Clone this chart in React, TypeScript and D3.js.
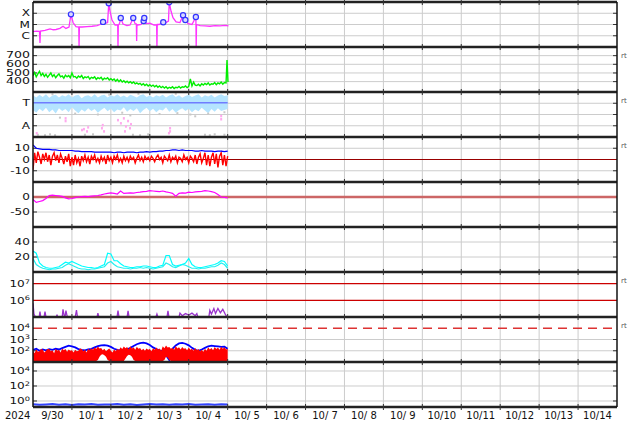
import React from "react";
import * as d3 from "d3";

// time span of the plot (UTC)
const START = Date.UTC(2024, 8, 30);
const END = Date.UTC(2024, 9, 15);

// ---- GOES X-ray flux (hours from start, W/m2)
const xrayHours = [0, 2, 4.0, 4.3, 4.6, 7.4, 10.5, 12.5, 14.2, 16.6, 18.5, 20.3, 22.2, 23.4, 24.7, 26.5, 28.2, 28.4, 28.6, 30.2, 33.3, 36.4, 39.5, 41.3, 43.2, 44.4, 46.0, 46.7, 47.5, 48.7, 50.6, 52.2, 52.4, 52.6, 53.3, 54.1, 55.5, 57.9, 59.8, 61.8, 62.9, 63.7, 63.9, 64.1, 64.7, 66.6, 68.2, 68.4, 68.6, 69.7, 72.1, 74.6, 76.2, 76.4, 76.6, 77.7, 80.3, 82.0, 83.5, 84.0, 85.1, 86.3, 88.2, 90.6, 92.5, 93.1, 93.9, 95.6, 98.0, 100.4, 100.6, 100.8, 103, 106, 109.1, 112.2, 115.3, 118.4, 120.5];
const xrayFlux = [2.3e-6, 2.6e-6, 2.5e-6, 2.3e-7, 2.6e-6, 3e-6, 4e-6, 3.4e-6, 3.6e-6, 4.5e-6, 7e-6, 4.5e-6, 6e-6, 8e-5, 1.5e-5, 6.5e-6, 6e-6, 1e-7, 6e-6, 6e-6, 6.5e-6, 7e-6, 8e-6, 1e-5, 1.7e-5, 1.2e-5, 1.5e-5, 7.6e-4, 1.5e-4, 2.5e-5, 9e-6, 9e-6, 1e-7, 9e-6, 1.2e-5, 3.8e-5, 1.1e-5, 8e-6, 9e-6, 3.8e-5, 1.2e-5, 1.1e-5, 3.4e-7, 1e-5, 9e-6, 1e-5, 2e-5, 1.4e-5, 3.8e-5, 1.2e-5, 1.3e-5, 9e-6, 9e-6, 1e-7, 1e-5, 1e-5, 1.6e-5, 1.5e-5, 2e-5, 9.4e-4, 1.5e-4, 4e-5, 1.7e-5, 1.5e-5, 6.6e-5, 2e-5, 2.5e-5, 1.2e-5, 1e-5, 4.7e-5, 1e-7, 1e-5, 8e-6, 7.5e-6, 7e-6, 8e-6, 7.5e-6, 8.5e-6, 7.5e-6];
const flareHours = [23.4, 43.2, 46.7, 54.1, 61.8, 68.2, 68.6, 80.3, 84.0, 92.5, 93.9, 100.4];
const flareFlux = [8e-5, 1.7e-5, 7.6e-4, 3.8e-5, 3.8e-5, 2e-5, 3.8e-5, 1.6e-5, 9.4e-4, 6.6e-5, 2.5e-5, 4.7e-5];

// ---- solar wind speed, hourly from hour 0
const windSpeed = [
  470, 505, 455, 490, 520, 470, 495, 460, 485, 450, 475, 500, 460, 480, 445, 470, 490, 455, 465, 440, 475, 455, 470, 445,
  500, 455, 460, 440, 465, 450, 470, 435, 455, 445, 460, 430, 450, 440, 455, 425, 445, 435, 450, 420, 440, 430, 445, 420,
  435, 415, 430, 405, 425, 400, 420, 395, 410, 390, 405, 385, 400, 380, 395, 375, 385, 370, 380, 360, 375, 355, 370, 350,
  365, 345, 360, 340, 355, 335, 350, 330, 345, 325, 340, 320, 335, 325, 340, 320, 335, 330, 345, 325, 340, 335, 350, 330,
  345, 430, 350, 395, 360, 355, 370, 350, 375, 360, 380, 365, 385, 360, 375, 370, 390, 365, 385, 375, 395, 370, 390, 385,
];
const windTailHours = [119.6, 120.2];
const windTailValues = [650, 395];

// ---- T / A panel (2-hourly band, dots)
const bandHigh = [
  9.3, 8.8, 9.4, 8.9, 9.5, 8.7, 9.2, 9.4, 8.8, 9.3,
  9.0, 9.5, 8.8, 9.2, 9.4, 8.6, 9.1, 9.3, 8.9, 9.5,
  8.8, 9.2, 9.4, 8.8, 9.3, 9.0, 9.5, 8.9, 9.2, 8.8,
  9.4, 9.1, 8.8, 9.3, 9.5, 8.9, 9.2, 8.8, 9.3, 9.0,
  9.4, 8.8, 9.2, 9.5, 8.9, 9.3, 8.7, 9.1, 9.4, 8.9,
  9.2, 9.5, 8.8, 9.3, 9.0, 9.4, 8.8, 9.2, 9.5, 9.1, 9.3,
];
const bandLow = [
  6.0, 5.4, 6.3, 5.7, 6.5, 5.5, 6.1, 5.2, 6.4, 5.8,
  6.2, 5.5, 6.6, 5.9, 5.3, 6.1, 5.6, 6.4, 5.8, 6.2,
  5.4, 6.0, 6.5, 5.7, 6.3, 5.5, 6.1, 5.9, 6.6, 5.6,
  6.2, 5.8, 6.4, 5.3, 6.0, 6.5, 5.7, 6.3, 5.5, 6.1,
  5.9, 6.6, 5.6, 6.2, 5.4, 6.0, 6.4, 5.8, 6.3, 5.5,
  6.1, 5.7, 6.5, 5.9, 5.3, 6.2, 5.6, 6.4, 5.8, 6.0, 6.2,
];
const tLevel = 7.6;
const grayHours = [16.6, 26, 40, 55, 60, 65, 78, 89, 100, 108, 118, 3, 7.4, 10.5, 13.6, 32, 37, 61.6, 66, 71, 106, 109, 112, 118, 12, 47, 88, 97];
const grayValues = [4.3, 5.2, 5.0, 5.4, 4.8, 9.6, 5.1, 5.3, 4.6, 5.2, 5.5, 0.5, 0.4, 0.6, 0.4, 0.5, 0.6, 0.5, 0.4, 0.6, 0.5, 0.4, 0.6, 0.5, 9.5, 9.4, 9.6, 5.0];
const pinkHours = [20.1, 20.1, 2.3, 30.2, 31.4, 33.3, 34, 42.5, 43.8, 43, 52.4, 54.2, 56, 57.3, 58.6, 59.8, 56.7, 60.4, 84.5, 84.5, 83.8, 116, 116];
const pinkValues = [4.2, 3.6, 0.9, 1.6, 1.8, 1.3, 2.2, 2.0, 1.3, 2.7, 3.8, 3.1, 4.2, 2.4, 3.6, 2.0, 1.3, 2.9, 2.0, 1.3, 0.9, 4.7, 4.0];

// ---- IMF Bz hourly, Bt 2-hourly (nT)
const bz = [
  -9, 6, -3, 7, 2, -4, 5, 0, 6, -2, 4, -5,
  3, 6, -1, 4, -3, 5, 1, -4, 3, -2, 5, -6,
  2, -5, 4, -3, 1, -6, 3, -1, 4, -2, 2, -4,
  3, 0, 4, -2, 1, -3, 3, -1, 2, -4, 4, -1,
  2, -3, 3, 0, 4, -2, 1, -3, 3, -1, 2, -2,
  3, 0, 2, -3, 1, 4, -1, 2, -2, 3, 0, 2,
  -1, 3, 1, -2, 2, 4, 0, 2, -3, 3, 1, -1,
  4, -2, 2, 0, 3, -3, 2, 1, -2, 4, 0, 2,
  -3, 3, 1, -2, 4, -4, 2, 5, -3, 1, 6, -5,
  4, -6, 2, 6, -4, 5, -7, 3, 6, -5, 4, -6, 3,
];
const bt = [
  13, 10, 9.5, 9, 9, 9, 8.5, 8.5, 8, 8, 8,
  8, 8, 7.5, 7.5, 7, 7, 7, 7, 6.5, 6.5,
  6.5, 6.5, 6.5, 6.5, 6, 6.5, 6.5, 6, 6.5, 6.5,
  6.5, 6, 6.5, 6.5, 7, 6.5, 7, 7, 7.5, 7.5,
  8, 8, 8.5, 8.5, 8, 8.5, 8, 8, 8, 7.5,
  7.5, 8, 7.5, 7.5, 7.5, 7, 7.5, 7.5, 7, 7.5,
];

// ---- Dst 2-hourly (nT)
const dst = [
  -8, -18, -15, -12, -5, 5, 6, 5, 4, 2, -3,
  -6, -5, -2, 0, 1, 2, 1, 3, 4, 5,
  7, 10, 12, 14, 12, 10, 20, 12, 13, 14,
  13, 15, 16, 18, 19, 21, 20, 19, 18, 20,
  17, 15, 12, 3, 12, 14, 13, 16, 15, 17,
  18, 19, 21, 20, 18, 15, 8, 0, -1, -3,
];

// ---- density, two series 2-hourly
const dens1 = [
  28, 25, 12, 8, 6, 5, 5, 6, 7, 10, 13,
  12, 14, 12, 10, 8, 7, 6, 6, 5, 6,
  8, 10, 25, 24, 15, 15, 11, 8, 7, 6,
  6, 7, 7, 8, 8, 7, 6, 6, 8, 9,
  22, 22, 10, 8, 9, 10, 12, 18, 10, 7,
  6, 6, 7, 8, 9, 10, 12, 15, 14, 8,
];
const dens2 = [
  18, 10, 7, 5, 4, 3, 4, 4, 5, 6, 9,
  11, 9, 7, 5, 4, 4, 3, 4, 4, 5,
  6, 7, 12, 14, 10, 7, 6, 5, 5, 4,
  5, 5, 6, 5, 6, 5, 4, 5, 6, 7,
  12, 10, 7, 6, 8, 10, 9, 7, 5, 5,
  4, 5, 5, 6, 7, 7, 9, 12, 10, 5,
];

// ---- electron flux (purple)
const purpleHours = [0, 0.6, 1.5, 3.8, 4.3, 4.8, 6.8, 7.4, 8, 14.2, 14.8, 15.4, 18, 18.5, 19.2, 19.8, 20.3, 20.9, 21.3, 26, 26.8, 27.4, 39.5, 40, 40.6, 51.8, 52.4, 53, 58, 58.6, 59.2, 75.8, 76.4, 77, 82.6, 83.2, 83.8, 90, 90.6, 92, 94, 96, 98, 100, 101, 101.6, 108.4, 109, 110, 111.5, 112.5, 114, 115.5, 117, 118.5, 119.6, 120];
const purpleValues = [6.6e5, 1.5e5, 9e4, 9e4, 2.1e5, 9e4, 9e4, 2.1e5, 9e4, 9e4, 1.3e5, 9e4, 9e4, 2.9e5, 1.2e5, 1.1e5, 2.4e5, 1.3e5, 9e4, 9e4, 2.6e5, 9e4, 9e4, 1.7e5, 9e4, 9e4, 2.4e5, 9e4, 9e4, 2.3e5, 9e4, 9e4, 1.5e5, 9e4, 9e4, 2.3e5, 9e4, 9e4, 1.7e5, 1.2e5, 1.6e5, 1.3e5, 1.7e5, 1.2e5, 1.6e5, 9e4, 9e4, 2.5e5, 1.5e5, 3.2e5, 1.6e5, 3.3e5, 1.8e5, 2.9e5, 1.5e5, 9e4, 9e4];

// ---- proton flux: blue 2-hourly, red hourly envelope
const protonBlue = [
  120, 150, 100, 130, 110, 140, 120, 150, 130, 170, 220,
  280, 250, 200, 140, 120, 110, 130, 150, 200, 260,
  300, 320, 280, 220, 150, 120, 110, 100, 130, 180,
  260, 380, 480, 520, 450, 320, 200, 140, 110, 90,
  40, 15, 150, 300, 450, 500, 420, 300, 180, 120,
  100, 130, 180, 250, 280, 260, 240, 220, 230, 150,
];
const protonRedHigh = [
  110, 60, 130, 80, 90, 150, 120, 70, 100, 140, 140, 90,
  110, 60, 150, 100, 120, 70, 160, 110, 140, 80, 130, 100,
  110, 70, 120, 90, 100, 160, 140, 90, 120, 70, 150, 110,
  170, 120, 200, 140, 240, 160, 180, 110, 150, 90, 120, 160,
  100, 70, 130, 90, 150, 110, 200, 140, 240, 170, 220, 130,
  250, 160, 200, 120, 230, 150, 180, 110, 150, 100, 160, 120,
  140, 90, 170, 120, 190, 130, 160, 100, 250, 170, 300, 190,
  220, 150, 180, 120, 260, 160, 200, 130, 220, 150, 170, 110,
  190, 120, 150, 100, 180, 110, 140, 90, 120, 80, 150, 100,
  200, 130, 180, 110, 220, 140, 190, 120, 230, 150, 210, 130, 150,
];
const protonRedLow = [
  12, 12, 12, 12, 12, 12, 12, 12, 12, 12, 12, 12,
  12, 12, 12, 12, 12, 12, 12, 12, 12, 12, 12, 12,
  12, 12, 12, 12, 12, 12, 12, 12, 12, 12, 12, 12,
  12, 12, 12, 12, 15, 30, 45, 50, 40, 30, 15, 12,
  12, 12, 12, 12, 12, 12, 12, 12, 12, 20, 35, 45,
  40, 30, 15, 12, 12, 12, 12, 12, 12, 12, 12, 12,
  12, 12, 12, 12, 12, 12, 12, 12, 12, 15, 30, 25,
  15, 12, 12, 12, 12, 12, 12, 12, 12, 12, 12, 12,
  12, 12, 12, 12, 12, 12, 12, 12, 12, 12, 12, 12,
  12, 12, 12, 12, 12, 12, 12, 12, 12, 12, 12, 12, 12,
];

// ---- bottom panel, 4-hourly
const lowBlue = [0.36, 0.31, 0.35, 0.4, 0.32, 0.36, 0.3, 0.38, 0.34, 0.39, 0.31, 0.35, 0.33, 0.4, 0.32, 0.37, 0.3, 0.35, 0.39, 0.33, 0.36, 0.31, 0.38, 0.34, 0.4, 0.32, 0.35, 0.37, 0.31, 0.36, 0.35];

const LEFT = 33;
const RIGHT = 617;
const PH = 45;
const tops = [2, 47, 92, 137, 182, 227, 272, 317, 362];
const FONT = "DejaVu Sans";
const GRID = "#cccccc";

type Lab = { v: number; t: string; e?: string };

export default function App() {
  const x = d3.scaleUtc().domain([new Date(START), new Date(END)]).range([LEFT, RIGHT]);
  const at = (h: number) => x(new Date(START + h * 3600000));
  const days = d3.utcDay.range(new Date(START), new Date(END + 1));

  const ys = [
    d3.scaleLog().domain([1e-7, 1e-3]).range([47, 2]).clamp(true),
    d3.scaleLinear().domain([280, 800]).range([92, 47]),
    d3.scaleLinear().domain([0, 10]).range([137, 92]),
    d3.scaleLinear().domain([-20, 20]).range([182, 137]),
    d3.scaleLinear().domain([-100, 50]).range([227, 182]),
    d3.scaleLinear().domain([0, 60]).range([272, 227]),
    d3.scaleLog().domain([1e5, 5e7]).range([317, 272]).clamp(true),
    d3.scaleLog().domain([10, 1e5]).range([362, 317]).clamp(true),
    d3.scaleLog().domain([0.158, 1.58e5]).range([407, 362]).clamp(true),
  ];

  const grids: number[][] = [
    [1e-4, 1e-5, 1e-6],
    [400, 500, 600, 700],
    [7.5, 5, 2.5],
    [10, -10],
    [-50],
    [20, 40],
    [],
    [1e2, 1e3],
    [1, 1e2, 1e4],
  ];

  const labels: Lab[][] = [
    [{ v: 1e-4, t: "X" }, { v: 1e-5, t: "M" }, { v: 1e-6, t: "C" }],
    [{ v: 700, t: "700" }, { v: 600, t: "600" }, { v: 500, t: "500" }, { v: 400, t: "400" }],
    [{ v: 7.5, t: "T" }, { v: 2.5, t: "A" }],
    [{ v: 10, t: "10" }, { v: 0, t: "0" }, { v: -10, t: "-10" }],
    [{ v: 0, t: "0" }, { v: -50, t: "-50" }],
    [{ v: 40, t: "40" }, { v: 20, t: "20" }],
    [{ v: 1e7, t: "10", e: "7" }, { v: 1e6, t: "10", e: "6" }],
    [{ v: 1e4, t: "10", e: "4" }, { v: 1e3, t: "10", e: "3" }, { v: 1e2, t: "10", e: "2" }],
    [{ v: 1e4, t: "10", e: "4" }, { v: 1e2, t: "10", e: "2" }, { v: 1, t: "10", e: "0" }],
  ];

  const line = (hours: number[], vals: number[], y: any) =>
    d3.line<number>().x((_, i) => at(hours[i])).y((v) => y(v))(vals) ?? "";
  const band = (hours: number[], lo: number[], hi: number[], y: any) =>
    d3.area<number>().x((_, i) => at(hours[i])).y0((_, i) => y(lo[i])).y1((v) => y(v))(hi) ?? "";

  const h1 = d3.range(0, windSpeed.length);
  const h1b = d3.range(0, bz.length);
  const h1r = d3.range(0, protonRedHigh.length);
  const h2 = d3.range(0, 121, 2);
  const h4 = d3.range(0, 121, 4);

  const clip = (i: number) => `url(#clip${i})`;

  return (
    <svg width={634} height={424} style={{ position: "absolute", left: 0, top: 0, background: "#fff" }} fontFamily={FONT}>
      <defs>
        {tops.map((t, i) => (
          <clipPath id={`clip${i}`} key={i}>
            <rect x={LEFT} y={t} width={RIGHT - LEFT} height={PH} />
          </clipPath>
        ))}
      </defs>

      {/* vertical day grid */}
      {days.slice(1, -1).map((d) => (
        <line key={+d} x1={x(d)} x2={x(d)} y1={2} y2={407} stroke={GRID} />
      ))}

      {/* horizontal grids */}
      {grids.map((g, i) =>
        g.map((v) => (
          <g key={`${i}-${v}`}>
            <line x1={LEFT} x2={RIGHT} y1={ys[i](v)} y2={ys[i](v)} stroke={GRID} />
            <line x1={LEFT} x2={LEFT + 4} y1={ys[i](v)} y2={ys[i](v)} stroke="#333" />
            <line x1={RIGHT - 4} x2={RIGHT} y1={ys[i](v)} y2={ys[i](v)} stroke="#333" />
          </g>
        ))
      )}

      {/* reference lines */}
      <line x1={LEFT} x2={RIGHT} y1={ys[3](0)} y2={ys[3](0)} stroke="#990000" strokeWidth={1} />
      <line x1={LEFT} x2={RIGHT} y1={ys[4](0)} y2={ys[4](0)} stroke="#cc6666" strokeWidth={2.5} />
      <line x1={LEFT} x2={RIGHT} y1={ys[6](1e7)} y2={ys[6](1e7)} stroke="#cc0000" strokeWidth={1.2} />
      <line x1={LEFT} x2={RIGHT} y1={ys[6](1e6)} y2={ys[6](1e6)} stroke="#cc0000" strokeWidth={1.2} />
      <line x1={LEFT} x2={RIGHT} y1={ys[7](1e4)} y2={ys[7](1e4)} stroke="#dd3333" strokeWidth={1.5} strokeDasharray="9,6" />

      {/* panel 0: x-ray */}
      <g clipPath={clip(0)}>
        <path d={line(xrayHours, xrayFlux, ys[0])} fill="none" stroke="#ff33ff" strokeWidth={1.3} />
        {flareHours.map((h, i) => (
          <circle key={i} cx={at(h)} cy={ys[0](flareFlux[i])} r={2.6} fill="#d8d8ff" stroke="#3333ff" strokeWidth={1.2} />
        ))}
      </g>

      {/* panel 1: wind speed */}
      <g clipPath={clip(1)}>
        <path d={line(h1.concat(windTailHours), windSpeed.concat(windTailValues), ys[1])} fill="none" stroke="#00ee00" strokeWidth={1.4} />
      </g>

      {/* panel 2: T / A */}
      <g clipPath={clip(2)}>
        <path d={band(h2, bandLow, bandHigh, ys[2])} fill="#b4e4ff" />
        {grayHours.map((h, i) => (
          <rect key={i} x={at(h) - 1} y={ys[2](grayValues[i]) - 1} width={2} height={2} fill="#c8c8c8" />
        ))}
        <line x1={at(0)} x2={at(120)} y1={ys[2](tLevel)} y2={ys[2](tLevel)} stroke="#6f7dff" strokeWidth={1.5} />
        {pinkHours.map((h, i) => (
          <rect key={i} x={at(h) - 1} y={ys[2](pinkValues[i]) - 1} width={2} height={2.5} fill="#ffaaee" />
        ))}
      </g>

      {/* panel 3: Bt / Bz */}
      <g clipPath={clip(3)}>
        <path d={line(h1b, bz, ys[3])} fill="none" stroke="#ff0000" strokeWidth={1.4} />
        <path d={line(h2, bt, ys[3])} fill="none" stroke="#0000ff" strokeWidth={1.2} />
      </g>

      {/* panel 4: Dst */}
      <g clipPath={clip(4)}>
        <path d={line(h2, dst, ys[4])} fill="none" stroke="#ff00ff" strokeWidth={1.2} />
      </g>

      {/* panel 5: density */}
      <g clipPath={clip(5)}>
        <path d={line(h2, dens2, ys[5])} fill="none" stroke="#22eeee" strokeWidth={1.2} />
        <path d={line(h2, dens1, ys[5])} fill="none" stroke="#00ffff" strokeWidth={1.2} />
      </g>

      {/* panel 6: electrons */}
      <g clipPath={clip(6)}>
        <path d={line(purpleHours, purpleValues, ys[6])} fill="none" stroke="#9933cc" strokeWidth={1.3} />
      </g>

      {/* panel 7: protons */}
      <g clipPath={clip(7)}>
        <path d={line(h2, protonBlue, ys[7])} fill="none" stroke="#0000ff" strokeWidth={1.8} />
        <path d={band(h1r, protonRedLow, protonRedHigh, ys[7])} fill="#ff0000" />
      </g>

      {/* panel 8 */}
      <g clipPath={clip(8)}>
        <path d={line(h4, lowBlue, ys[8])} fill="none" stroke="#3344ff" strokeWidth={2} />
      </g>

      {/* frame: separators and sides */}
      {tops.concat([407]).map((t) => (
        <line key={t} x1={LEFT} x2={RIGHT} y1={t} y2={t} stroke="#222" strokeWidth={2.5} />
      ))}
      {tops.concat([407]).map((t) =>
        days.slice(1, -1).map((d) => (
          <line key={`${t}-${+d}`} x1={x(d)} x2={x(d)} y1={t - 3} y2={t + 3} stroke="#333" />
        ))
      )}
      <line x1={LEFT} x2={LEFT} y1={2} y2={407} stroke="#111" strokeWidth={1.5} />
      <line x1={RIGHT} x2={RIGHT} y1={2} y2={407} stroke="#111" strokeWidth={1.5} />

      {/* left labels (slightly squat, as in the original) */}
      {labels.map((ls, i) =>
        ls.map((l) => (
          <g key={`${i}-${l.v}`} transform={`translate(30,${ys[i](l.v)}) scale(${i === 1 ? "1.2,0.75" : "1.1,0.82"})`}>
            <text x={0} y={0} dy="0.36em" textAnchor="end" fontSize={i === 1 ? 10.5 : 11} fill="#111">
              {l.t}
              {l.e && (
                <tspan dy={-4} fontSize={7.5}>
                  {l.e}
                </tspan>
              )}
            </text>
          </g>
        ))
      )}

      {/* rt marks */}
      {[1, 2, 3, 6, 7].map((i) => (
        <text key={i} x={621} y={tops[i] + 11} fontSize={7} fill="#555">
          rt
        </text>
      ))}

      {/* bottom axis */}
      <text x={5} y={419} fontSize={10} fill="#111">
        2024
      </text>
      {days.slice(0, -1).map((d) => {
        const m = d.getUTCMonth() + 1;
        const dd = String(d.getUTCDate()).padStart(2, " ");
        return (
          <text key={+d} x={x(d3.utcHour.offset(d, 12))} y={419} fontSize={10} textAnchor="middle" fill="#111" style={{ whiteSpace: "pre" }}>
            {`${m}/${dd}`}
          </text>
        );
      })}
    </svg>
  );
}
